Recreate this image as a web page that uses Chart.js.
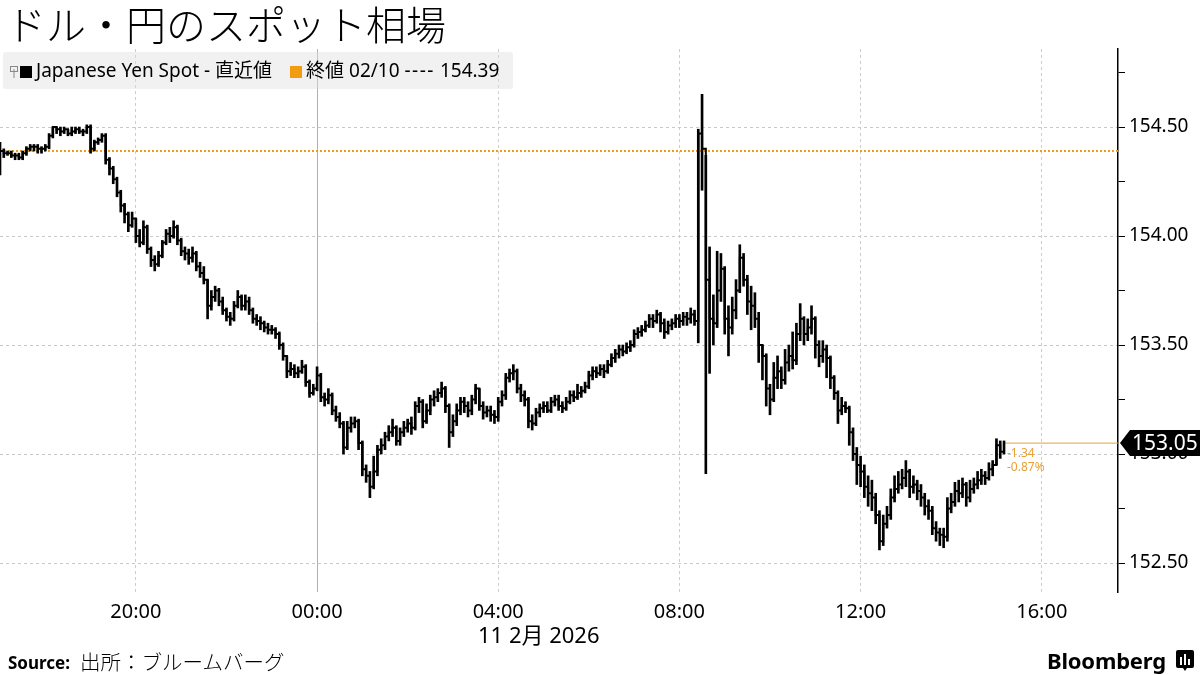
<!DOCTYPE html>
<html>
<head>
<meta charset="utf-8">
<script src="https://cdn.jsdelivr.net/npm/chart.js@4.4.1/dist/chart.umd.min.js"></script>
<style>
  body { margin: 0; background: #fff; }
  #wrap { position: relative; width: 1200px; height: 675px; overflow: hidden; font-family: "Noto Sans", "Noto Sans CJK JP", sans-serif; color: #000; }
  #chart { position: absolute; left: 0; top: 0; }
  .title { position: absolute; left: 6px; top: -6px; font-family: "Noto Sans CJK JP", sans-serif; font-size: 40px; font-weight: 300; }
  .legend { position: absolute; left: 3px; top: 52px; width: 510px; height: 37px; background: rgba(225,225,225,0.45); border-radius: 3px; font-family: "Noto Sans", "Noto Sans CJK JP", sans-serif; font-size: 19px; line-height: 37px; white-space: nowrap; }
  .legend .sq { display: inline-block; width: 12px; height: 12px; vertical-align: -1px; margin-right: 4px; }
  .legend .pin { display: inline-block; width: 8px; height: 12px; margin: 0 2px 0 7px; vertical-align: -1px; }
  .legend .dash { letter-spacing: 1.5px; }
  .date { position: absolute; left: 478px; top: 617px; font-size: 22px; }
  .source { position: absolute; left: 8px; top: 646px; font-size: 20.5px; font-family: "Noto Sans CJK JP", sans-serif; font-weight: 300; }
  .source b { font-family: "Noto Sans", sans-serif; font-size: 17px; font-weight: 700; margin-right: 10px; vertical-align: 1px; }
  .brand { position: absolute; left: 1047px; top: 645px; font-size: 22px; font-weight: 700; letter-spacing: -0.2px; }
  .logo { position: absolute; left: 1176px; top: 650px; }
</style>
</head>
<body>
<div id="wrap">
  <canvas id="chart" width="1200" height="675"></canvas>
  <div class="title">ドル・円のスポット相場</div>
  <div class="legend" id="legend"></div>
  <div class="date">11 2月 2026</div>
  <div class="source"><b>Source:</b>出所：ブルームバーグ</div>
  <div class="brand">Bloomberg</div>
  <svg class="logo" width="18" height="22" viewBox="0 0 18 22">
    <path d="M2 0 H16 Q18 0 18 2 V16 Q18 18 16 18 H11 L9 21 L7 18 H2 Q0 18 0 16 V2 Q0 0 2 0 Z" fill="#000"/>
    <rect x="4" y="7" width="2" height="8" fill="#fff"/>
    <rect x="8" y="4" width="2" height="11" fill="#fff"/>
    <rect x="12" y="9" width="2" height="6" fill="#fff"/>
  </svg>
</div>
<script>
// 5分足、2/10 17:00 から 2/11 15:10 まで (x = 17:00 からの分)
const seriesName = 'Japanese Yen Spot - 直近値';
const prevCloseLabel = '終値 02/10';
const prevClose = 154.39;

const closes = [
  154.39,154.38,154.38,154.37,154.37,154.36,154.38,154.40,154.41,154.41,154.40,154.40, // 17:00
  154.41,154.46,154.50,154.49,154.48,154.49,154.47,154.48,154.49,154.48,154.48,154.50, // 18:00
  154.40,154.43,154.44,154.46,154.35,154.31,154.26,154.20,154.14,154.10,154.05,154.08, // 19:00
  154.00,153.97,154.04,153.94,153.89,153.87,153.91,153.97,154.01,154.00,154.04,153.98, // 20:00
  153.93,153.92,153.90,153.92,153.86,153.83,153.80,153.68,153.72,153.75,153.70,153.66, // 21:00
  153.63,153.62,153.68,153.72,153.68,153.70,153.66,153.62,153.61,153.60,153.58,153.57, // 22:00
  153.57,153.55,153.50,153.45,153.38,153.39,153.37,153.38,153.40,153.33,153.28,153.30, // 23:00
  153.36,153.26,153.25,153.27,153.20,153.17,153.14,153.03,153.12,153.14,153.15,153.05, // 00:00
  152.93,152.90,152.85,152.92,153.02,153.04,153.08,153.10,153.12,153.06,153.10,153.12, // 01:00
  153.14,153.12,153.22,153.24,153.15,153.20,153.25,153.26,153.28,153.30,153.22,153.10, // 02:00
  153.15,153.20,153.24,153.22,153.20,153.25,153.30,153.22,153.19,153.20,153.18,153.17, // 03:00
  153.24,153.27,153.35,153.37,153.38,153.30,153.27,153.25,153.15,153.14,153.19,153.21, // 04:00
  153.22,153.20,153.24,153.25,153.22,153.21,153.24,153.27,153.26,153.28,153.29,153.31, // 05:00
  153.36,153.38,153.37,153.39,153.38,153.41,153.44,153.46,153.48,153.47,153.49,153.50, // 06:00
  153.55,153.56,153.57,153.59,153.62,153.61,153.64,153.60,153.56,153.59,153.60,153.62, // 07:00
  153.61,153.63,153.62,153.64,153.61,154.47,154.40,153.80,153.62,153.60,153.75,153.85, // 08:00
  153.62,153.58,153.66,153.75,153.90,153.80,153.70,153.68,153.62,153.50,153.45,153.30, // 09:00
  153.25,153.35,153.38,153.34,153.42,153.45,153.43,153.55,153.62,153.55,153.58,153.62, // 10:00
  153.50,153.45,153.48,153.44,153.35,153.28,153.20,153.22,153.21,153.10,153.00,152.95, // 11:00
  152.92,152.85,152.82,152.80,152.72,152.60,152.68,152.72,152.80,152.84,152.86,152.89, // 12:00
  152.92,152.85,152.86,152.83,152.80,152.76,152.74,152.66,152.64,152.63,152.62,152.75, // 13:00
  152.78,152.83,152.82,152.86,152.80,152.84,152.86,152.88,152.90,152.89,152.93,152.95, // 14:00
  153.04,153.01,153.05                                                                   // 15:00
];

const highs = [
  154.43,154.40,154.39,154.39,154.38,154.38,154.39,154.41,154.42,154.42,154.42,154.41,
  154.42,154.47,154.50,154.50,154.50,154.50,154.49,154.50,154.50,154.50,154.49,154.51,
  154.51,154.44,154.45,154.47,154.47,154.36,154.32,154.27,154.21,154.15,154.11,154.11,
  154.08,154.03,154.07,154.05,153.95,153.91,153.93,153.98,154.03,154.04,154.07,154.05,
  153.99,153.95,153.94,153.95,153.93,153.88,153.86,153.80,153.75,153.77,153.76,153.72,
  153.67,153.65,153.70,153.75,153.73,153.73,153.72,153.67,153.64,153.63,153.61,153.60,
  153.59,153.58,153.56,153.51,153.45,153.42,153.41,153.40,153.43,153.41,153.34,153.32,
  153.40,153.37,153.28,153.30,153.28,153.22,153.19,153.15,153.15,153.17,153.17,153.16,
  153.06,152.95,152.92,152.99,153.04,153.07,153.10,153.13,153.16,153.13,153.12,153.15,
  153.16,153.17,153.24,153.26,153.25,153.23,153.27,153.29,153.30,153.33,153.31,153.23,
  153.18,153.23,153.26,153.26,153.24,153.27,153.32,153.30,153.24,153.22,153.22,153.20,
  153.26,153.29,153.37,153.39,153.41,153.39,153.32,153.29,153.26,153.18,153.21,153.23,
  153.24,153.24,153.26,153.27,153.27,153.24,153.26,153.29,153.29,153.32,153.31,153.33,
  153.38,153.40,153.40,153.41,153.41,153.43,153.46,153.48,153.50,153.50,153.51,153.52,
  153.57,153.58,153.59,153.61,153.64,153.64,153.66,153.65,153.62,153.61,153.62,153.64,
  153.64,153.65,153.65,153.67,153.66,154.49,154.65,154.37,153.95,153.73,153.93,153.92,
  153.86,153.68,153.72,153.80,153.96,153.92,153.82,153.77,153.74,153.65,153.50,153.46,
  153.32,153.42,153.45,153.40,153.48,153.50,153.56,153.60,153.69,153.63,153.62,153.68,
  153.63,153.52,153.52,153.50,153.45,153.36,153.29,153.26,153.24,153.22,153.12,153.03,
  152.99,152.95,152.90,152.88,152.82,152.74,152.72,152.76,152.84,152.90,152.92,152.93,
  152.97,152.93,152.90,152.88,152.86,152.82,152.79,152.76,152.69,152.66,152.66,152.80,
  152.82,152.87,152.88,152.89,152.87,152.88,152.89,152.92,152.93,152.92,152.96,152.97,
  153.07,153.06,153.06
];

const lows = [
  154.28,154.36,154.37,154.36,154.35,154.35,154.35,154.37,154.39,154.39,154.38,154.38,
  154.39,154.40,154.45,154.47,154.46,154.47,154.46,154.46,154.47,154.47,154.46,154.47,
  154.38,154.39,154.42,154.43,154.33,154.28,154.24,154.18,154.11,154.06,154.02,154.04,
  153.97,153.95,153.96,153.92,153.86,153.84,153.86,153.90,153.96,153.97,153.99,153.96,
  153.91,153.89,153.87,153.88,153.84,153.81,153.78,153.62,153.66,153.70,153.68,153.64,
  153.61,153.59,153.61,153.67,153.66,153.66,153.64,153.60,153.59,153.57,153.56,153.55,
  153.55,153.53,153.48,153.43,153.35,153.36,153.35,153.35,153.37,153.31,153.26,153.27,
  153.29,153.24,153.22,153.23,153.18,153.15,153.12,153.00,153.02,153.10,153.12,153.02,
  152.90,152.87,152.80,152.84,152.90,153.00,153.02,153.06,153.08,153.04,153.04,153.08,
  153.10,153.09,153.11,153.19,153.12,153.14,153.18,153.22,153.24,153.26,153.19,153.03,
  153.08,153.13,153.18,153.19,153.17,153.18,153.23,153.20,153.16,153.17,153.15,153.14,
  153.15,153.22,153.25,153.33,153.34,153.28,153.24,153.22,153.12,153.11,153.13,153.17,
  153.19,153.19,153.19,153.22,153.20,153.19,153.20,153.23,153.24,153.25,153.26,153.28,
  153.30,153.34,153.35,153.36,153.35,153.37,153.40,153.42,153.44,153.45,153.46,153.47,
  153.49,153.53,153.54,153.56,153.58,153.58,153.60,153.56,153.53,153.55,153.57,153.58,
  153.58,153.59,153.59,153.60,153.59,153.51,154.21,152.91,153.37,153.50,153.58,153.70,
  153.55,153.45,153.55,153.62,153.74,153.77,153.64,153.57,153.58,153.42,153.34,153.22,
  153.18,153.24,153.30,153.30,153.32,153.38,153.39,153.41,153.52,153.50,153.52,153.55,
  153.44,153.40,153.42,153.35,153.30,153.25,153.14,153.18,153.19,153.04,152.97,152.86,
  152.85,152.80,152.76,152.74,152.68,152.56,152.58,152.66,152.70,152.78,152.82,152.84,
  152.85,152.80,152.82,152.79,152.76,152.72,152.70,152.63,152.60,152.58,152.57,152.60,
  152.73,152.76,152.78,152.80,152.76,152.78,152.82,152.84,152.86,152.86,152.88,152.90,
  152.95,152.98,153.00
];

const barMinutes = 5;
const xTickMinutes = [180, 420, 660, 900, 1140, 1380];
const xTickLabels = ['20:00', '00:00', '04:00', '08:00', '12:00', '16:00'];
const dayBreakMinute = 420;
const yTicks = [152.5, 152.75, 153, 153.25, 153.5, 153.75, 154, 154.25, 154.5, 154.75];

const ORANGE = '#f39c12';
const FONT = '"Noto Sans", "Noto Sans CJK JP", sans-serif';

document.getElementById('legend').innerHTML =
  '<svg class="pin" viewBox="0 0 8 12"><rect x="0.5" y="0.5" width="7" height="5" fill="none" stroke="#888"/><line x1="4" y1="3" x2="4" y2="12" stroke="#888"/></svg>' +
  '<span class="sq" style="background:#000"></span>' + seriesName +
  '<span class="sq" style="background:' + ORANGE + ';margin-left:18px"></span>' +
  prevCloseLabel + ' <span class="dash">----</span> ' + prevClose.toFixed(2);

const lastIdx = closes.length - 1;
const isMajor = v => Math.abs(v * 2 - Math.round(v * 2)) < 1e-6;

const lastLabel = {
  id: 'lastLabel',
  afterDraw(chart) {
    const { ctx, scales: { x, y } } = chart;
    const last = closes[lastIdx];
    const py = y.getPixelForValue(last);
    const px = x.getPixelForValue(lastIdx * barMinutes);
    const left = x.right + 2;
    ctx.save();
    ctx.fillStyle = '#000';
    ctx.beginPath();
    ctx.moveTo(left, py);
    ctx.lineTo(left + 10, py - 13);
    ctx.lineTo(1200, py - 13);
    ctx.lineTo(1200, py + 13);
    ctx.lineTo(left + 10, py + 13);
    ctx.closePath();
    ctx.fill();
    ctx.fillStyle = '#fff';
    ctx.font = '21px ' + FONT;
    ctx.textBaseline = 'middle';
    ctx.textAlign = 'left';
    ctx.fillText(last.toFixed(2), left + 12, py + 1);
    const diff = last - prevClose;
    const pct = diff / prevClose * 100;
    ctx.fillStyle = '#e8a035';
    ctx.font = '12px ' + FONT;
    ctx.fillText(diff.toFixed(2), px + 3, py + 10);
    ctx.fillText(pct.toFixed(2) + '%', px + 3, py + 24);
    ctx.restore();
  }
};

new Chart(document.getElementById('chart').getContext('2d'), {
  type: 'bar',
  data: {
    datasets: [
      {
        type: 'bar',
        data: closes.map((c, i) => ({ x: i * barMinutes, y: [lows[i], highs[i]] })),
        backgroundColor: '#000',
        borderWidth: 0,
        barThickness: 2
      },
      {
        type: 'line',
        data: closes.map((c, i) => ({ x: i * barMinutes, y: c })),
        stepped: true,
        borderColor: '#000',
        borderWidth: 2,
        pointRadius: 0
      },
      {
        type: 'line',
        data: [{ x: 0, y: prevClose }, { x: 1481, y: prevClose }],
        borderColor: ORANGE,
        borderWidth: 2,
        borderDash: [2, 2],
        pointRadius: 0
      },
      {
        type: 'line',
        data: [{ x: lastIdx * barMinutes, y: closes[lastIdx] }, { x: 1481, y: closes[lastIdx] }],
        borderColor: '#e8a035',
        borderWidth: 1,
        pointRadius: 0
      }
    ]
  },
  options: {
    responsive: false,
    animation: false,
    layout: { padding: { top: 49, left: 0, right: 0, bottom: 0 } },
    plugins: { legend: { display: false }, tooltip: { enabled: false } },
    scales: {
      x: {
        type: 'linear',
        min: 0,
        max: 1481,
        offset: false,
        afterBuildTicks: s => { s.ticks = xTickMinutes.map(v => ({ value: v })); },
        afterFit: s => { s.height = 83; },
        ticks: {
          callback: (v, i) => xTickLabels[i],
          autoSkip: false,
          maxRotation: 0,
          padding: 8,
          color: '#000',
          font: { size: 20, family: FONT }
        },
        grid: {
          offset: false,
          drawTicks: false,
          color: c => (c.tick && c.tick.value === dayBreakMinute) ? '#b0b0b0' : '#cccccc',
          lineWidth: 1
        },
        border: {
          display: false,
          dash: c => (c.tick && c.tick.value === dayBreakMinute) ? [] : [3, 3]
        }
      },
      y: {
        position: 'right',
        min: 152.367,
        max: 154.858,
        afterBuildTicks: s => { s.ticks = yTicks.map(v => ({ value: v })); },
        afterFit: s => { s.width = 82; },
        ticks: {
          callback: v => isMajor(v) ? v.toFixed(2) : '',
          padding: 4,
          color: '#000',
          font: { size: 19, family: FONT }
        },
        grid: {
          color: c => (c.tick && isMajor(c.tick.value)) ? '#c8c8c8' : 'rgba(0,0,0,0)',
          tickColor: '#000',
          tickLength: 7,
          lineWidth: 1
        },
        border: { display: true, color: '#000', width: 1.5, dash: [3, 3] }
      }
    }
  },
  plugins: [lastLabel]
});
</script>
</body>
</html>
